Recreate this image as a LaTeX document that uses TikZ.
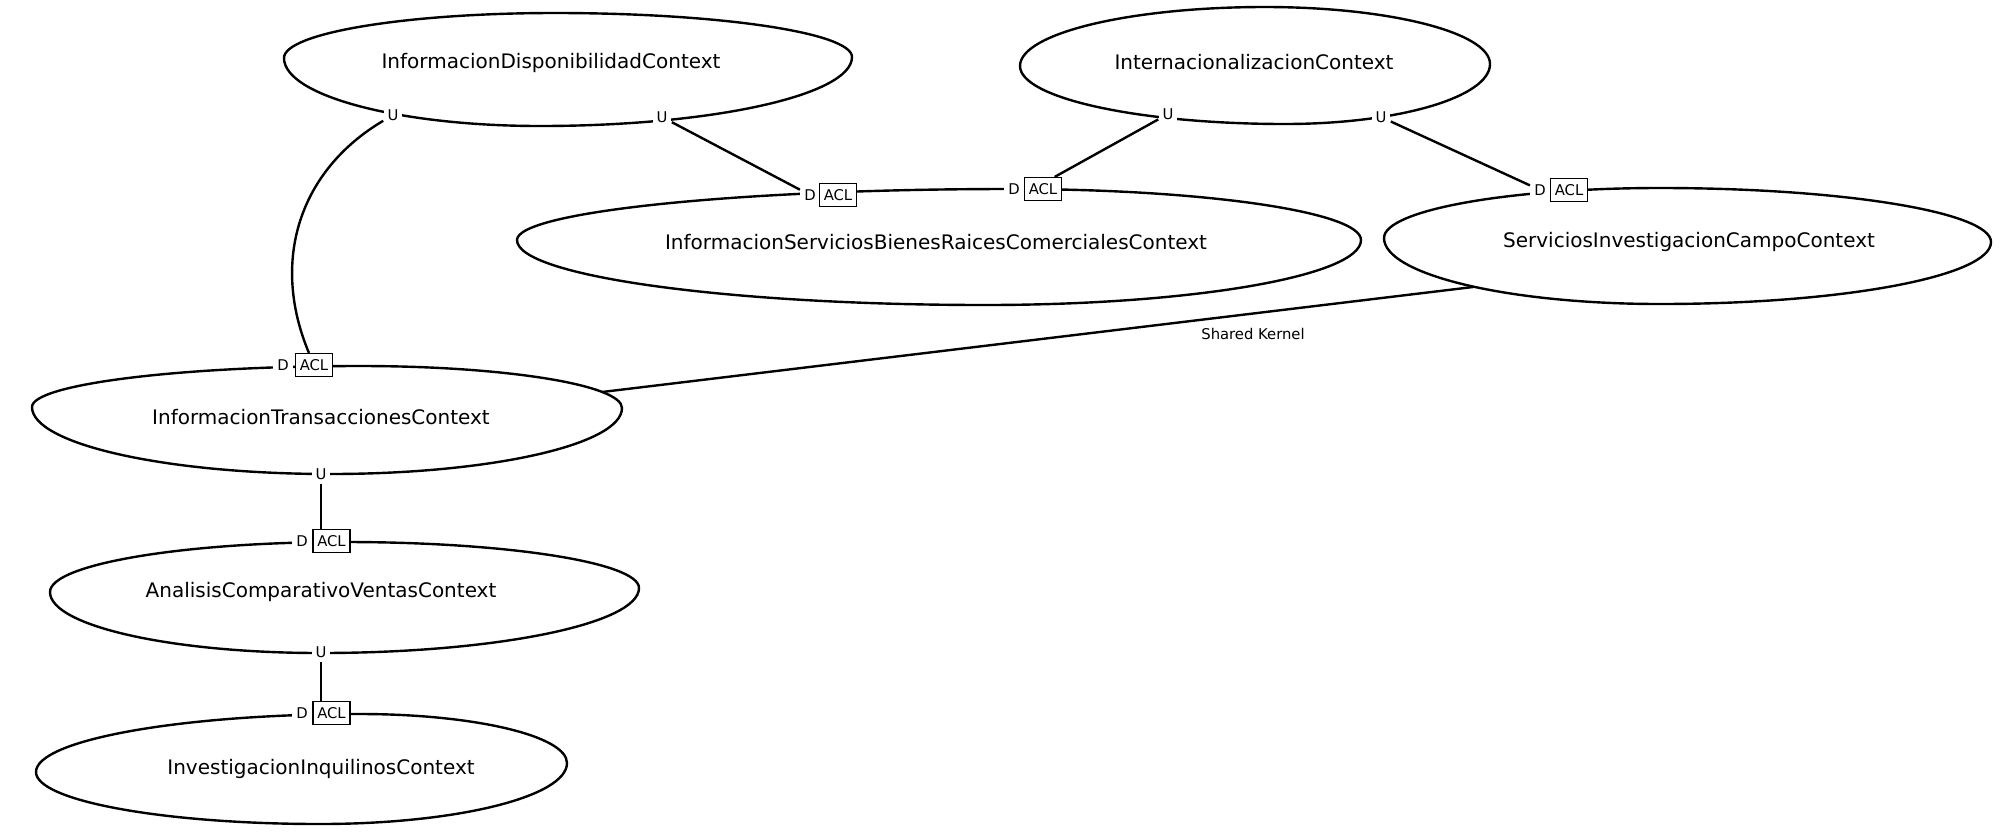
\documentclass[tikz,border=0pt]{standalone}
\usepackage{fontspec}
\setmainfont{DejaVu Sans}

\tikzset{
  ctxline/.style={line width=1.2pt},
  ctxtext/.style={font=\fontsize{10}{12}\selectfont, inner sep=0pt},
  uport/.style={font=\fontsize{7.4}{9}\selectfont, fill=white, inner sep=2pt},
  dport/.style={font=\fontsize{7.4}{9}\selectfont, fill=white, inner sep=2pt},
  aclbox/.style={font=\fontsize{7.4}{9}\selectfont, draw, fill=white, line width=0.6pt,
    inner sep=0pt, minimum width=18.5pt, minimum height=11.5pt},
  conn/.style={line width=1.2pt},
  relname/.style={font=\fontsize{7.4}{9}\selectfont, inner sep=0pt},
}

% closed oval through its left, top, right and bottom points
\newcommand\ctxoutline[8]{%
  \draw[ctxline] (#1,#2)
    .. controls (#1,{#2-0.5523*(#2-#4)}) and ({#3-0.5523*(#3-#1)},#4) .. (#3,#4)
    .. controls ({#3+0.5523*(#5-#3)},#4) and (#5,{#6-0.5523*(#6-#4)}) .. (#5,#6)
    .. controls (#5,{#6+0.5523*(#8-#6)}) and ({#7+0.5523*(#5-#7)},#8) .. (#7,#8)
    .. controls ({#7-0.5523*(#7-#1)},#8) and (#1,{#2+0.5523*(#8-#2)}) .. (#1,#2) -- cycle;}

\begin{document}
\begin{tikzpicture}[x=0.5pt,y=-0.5pt]
\useasboundingbox (0,0) rectangle (2000,836);

% bounded context outlines
\ctxoutline{284}{58}{555}{13}{852}{57}{540}{126}
\ctxoutline{1020}{66}{1265}{7}{1490}{64}{1285}{124}
\ctxoutline{517}{240}{1010}{189}{1361}{240}{985}{305}
\ctxoutline{1384}{238}{1660}{188}{1991}{242}{1660}{304}
\ctxoutline{32}{407}{360}{366}{622}{408}{330}{474}
\ctxoutline{50}{592}{345}{542}{639}{588}{320}{653}
\ctxoutline{36}{772}{360}{714}{567}{763}{320}{824}

% bounded context names
\node[ctxtext] (c1) at (551,62.5) {InformacionDisponibilidadContext};
\node[ctxtext] (c2) at (1254,62.5) {InternacionalizacionContext};
\node[ctxtext] (c3) at (936,242) {InformacionServiciosBienesRaicesComercialesContext};
\node[ctxtext] (c4) at (1689,242) {ServiciosInvestigacionCampoContext};
\node[ctxtext] (c5) at (321,417) {InformacionTransaccionesContext};
\node[ctxtext] (c6) at (321,592) {AnalisisComparativoVentasContext};
\node[ctxtext] (c7) at (321,769) {InvestigacionInquilinosContext};

% upstream ports
\node[uport] (c1u1) at (393,115) {U};
\node[uport] (c1u2) at (662,117) {U};
\node[uport] (c2u1) at (1168,114) {U};
\node[uport] (c2u2) at (1381,117) {U};
\node[uport] (c5u) at (321,474) {U};
\node[uport] (c6u) at (321,652) {U};

% downstream ports with anticorruption layers
\node[dport] (c3d1) at (810,195) {D};
\node[aclbox] (c3a1) at (838,195) {ACL};
\node[dport] (c3d2) at (1014,189) {D};
\node[aclbox] (c3a2) at (1043,189) {ACL};
\node[dport] (c4d) at (1540,190) {D};
\node[aclbox] (c4a) at (1569,190) {ACL};
\node[dport] (c5d) at (283,365) {D};
\node[aclbox] (c5a) at (314,365) {ACL};
\node[dport] (c6d) at (302,541) {D};
\node[aclbox] (c6a) at (331.5,541) {ACL};
\node[dport] (c7d) at (302,713) {D};
\node[aclbox] (c7a) at (331.5,713) {ACL};

% shared kernel ends on the outlines
\coordinate (k4) at (1473,287);
\coordinate (k5) at (602,392);

% relationships
\draw[conn] (c1u1) .. controls (300,170) and (270,260) .. (c5a);
\draw[conn] (c1u2) -- (c3d1);
\draw[conn] (c2u1) -- (c3a2.46);
\draw[conn] (c2u2) -- (c4d);
\draw[conn] (c5u) -- (c6a.north -| c5u);
\draw[conn] (c6u) -- (c7a.north -| c6u);
\draw[conn] (k4) -- (k5);
\node[relname] (sk) at (1253,334) {Shared Kernel};
\end{tikzpicture}
\end{document}
